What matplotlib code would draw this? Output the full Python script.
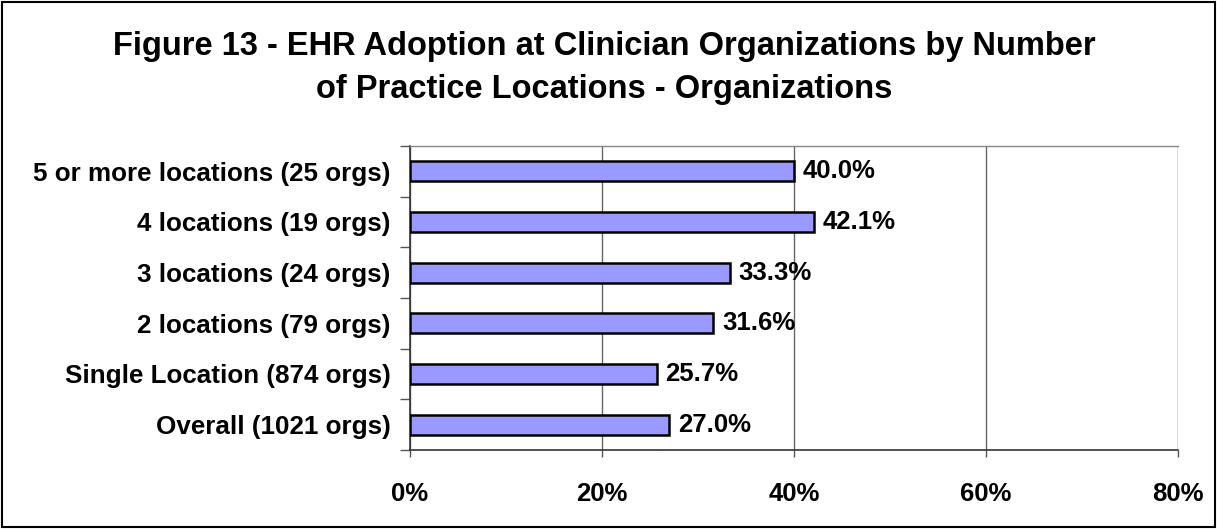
import matplotlib
matplotlib.use("Agg")
import matplotlib.pyplot as plt
from matplotlib.patches import Rectangle
import numpy as np

categories = ["Overall (1021 orgs)", "Single Location (874 orgs)", "2 locations (79 orgs)",
              "3 locations (24 orgs)", "4 locations (19 orgs)", "5 or more locations (25 orgs)"]
values = [27.0, 25.7, 31.6, 33.3, 42.1, 40.0]
xticks = [0, 20, 40, 60, 80]
xticklabels = ["0%", "20%", "40%", "60%", "80%"]
title = "Figure 13 - EHR Adoption at Clinician Organizations by Number\nof Practice Locations - Organizations"

plt.rcParams['font.family'] = ['Liberation Sans', 'DejaVu Sans']

fig = plt.figure(figsize=(12.17, 5.29), dpi=100)
ax = fig.add_axes([410/1217, 1-450/529, (1178-410)/1217, (450-146)/529])

y = np.arange(len(categories))
ax.barh(y, values, height=0.4, color="#9999FF", edgecolor="black", linewidth=1.8, zorder=3)
for yi, v in zip(y, values):
    ax.text(v + 0.9, yi, f"{v:.1f}%", va="center", ha="left", fontsize=18.5, fontweight="bold", zorder=4)

ax.set_xlim(0, 80)
ax.set_ylim(-0.5, len(categories) - 0.5)
ax.set_xticks(xticks)
ax.set_xticklabels(xticklabels, fontsize=18.5, fontweight="bold")
ax.tick_params(axis="x", length=5, width=1, color="#555555", pad=18)
ax.set_yticks(np.arange(len(categories) + 1) - 0.5)
ax.set_yticklabels([])
ax.set_yticks(y, minor=True)
ax.set_yticklabels(categories, minor=True, fontsize=18.7, fontweight="bold")
ax.tick_params(axis="y", which="major", length=7, width=1, color="#555555")
ax.tick_params(axis="y", which="minor", length=0, pad=14)
ax.grid(axis="x", color="#666666", linewidth=1, zorder=1)
ax.spines["right"].set_visible(False)
ax.spines["top"].set_color("#888888")
ax.spines["top"].set_linewidth(1)
ax.spines["left"].set_color("#333333")
ax.spines["bottom"].set_color("#333333")
ax.spines["left"].set_linewidth(1.2)
ax.spines["bottom"].set_linewidth(1.2)

fig.text(604/1217, 1-68/529, title, ha="center", va="center", fontsize=23.5, fontweight="bold", linespacing=1.47)
fig.patches.append(Rectangle((0.002, 0.003), 0.996, 0.994, transform=fig.transFigure,
                             fill=False, edgecolor="black", linewidth=1.5))
fig.savefig("out.png", dpi=100)
